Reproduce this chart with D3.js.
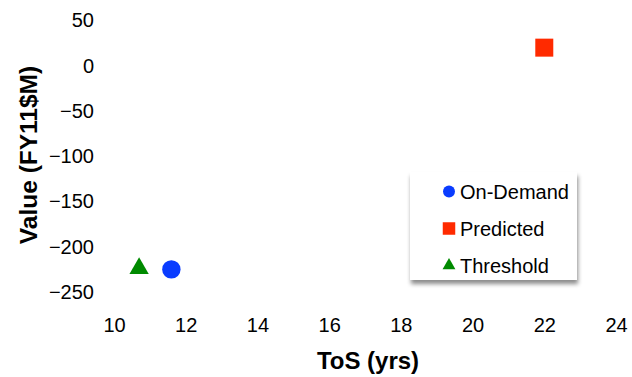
<!DOCTYPE html>
<html>
<head>
<meta charset="utf-8">
<script src="https://cdn.jsdelivr.net/npm/d3@7"></script>
<style>
  html, body { margin: 0; padding: 0; background: #fff; }
  svg { display: block; font-family: Arial, "Liberation Sans", sans-serif; }
</style>
</head>
<body>
<svg id="chart" width="632" height="377"></svg>
<script>
// Cost value versus time on station for three maintenance strategies
const seriesNames = ["On-Demand", "Predicted", "Threshold"];
const tosYears = [11.6, 22.0, 10.7];
const valueFY11M = [-225, 20, -224];
const seriesColors = ["#0a3cff", "#ff2a00", "#008a00"];
const seriesShapes = ["circle", "square", "triangle"];

const xTicks = [10, 12, 14, 16, 18, 20, 22, 24];
const yTicks = [50, 0, -50, -100, -150, -200, -250];

const svg = d3.select("#chart");

const x = d3.scaleLinear().domain([10, 24]).range([114, 616]);
const y = d3.scaleLinear().domain([-250, 50]).range([292, 20.5]);

const symbolType = { circle: d3.symbolCircle, square: d3.symbolSquare, triangle: d3.symbolTriangle };

// Axes without lines or tick marks, labels only
const xAxis = d3.axisBottom(x).tickValues(xTicks).tickSize(0).tickPadding(0);
const gx = svg.append("g").attr("transform", "translate(0,318)").call(xAxis);
gx.select(".domain").remove();
gx.selectAll("text").attr("font-size", 20).attr("fill", "#000").attr("dy", "0.71em")
  .attr("font-family", "Arial, 'Liberation Sans', sans-serif");

const yAxis = d3.axisLeft(y).tickValues(yTicks).tickSize(0).tickPadding(0);
const gy = svg.append("g").attr("transform", "translate(94,0)").call(yAxis);
gy.select(".domain").remove();
gy.selectAll("text").attr("font-size", 20).attr("fill", "#000")
  .attr("font-family", "Arial, 'Liberation Sans', sans-serif");

// Axis titles
svg.append("text")
  .attr("x", 368).attr("y", 369)
  .attr("text-anchor", "middle")
  .attr("font-size", 24).attr("font-weight", "bold")
  .text("ToS (yrs)");

svg.append("text")
  .attr("transform", "translate(37,155) rotate(-90)")
  .attr("text-anchor", "middle")
  .attr("font-size", 24.5).attr("font-weight", "bold")
  .text("Value (FY11$M)");

// Data points
const points = seriesNames.map((name, i) => ({
  name, tos: tosYears[i], value: valueFY11M[i], color: seriesColors[i], shape: seriesShapes[i]
}));

const markerArea = { circle: Math.PI * 9.2 * 9.2, square: 18 * 18, triangle: 18 * 18 * Math.sqrt(3) / 4 * 1.15 };

svg.append("g").selectAll("path")
  .data(points)
  .join("path")
  .attr("transform", d => `translate(${x(d.tos)},${y(d.value)})`)
  .attr("d", d => d3.symbol().type(symbolType[d.shape]).size(markerArea[d.shape])())
  .attr("fill", d => d.color);

// Legend with drop shadow
const defs = svg.append("defs");
const f = defs.append("filter").attr("id", "legendShadow")
  .attr("x", "-10%").attr("y", "-10%").attr("width", "125%").attr("height", "130%");
f.append("feDropShadow").attr("dx", 1).attr("dy", 4).attr("stdDeviation", 2.2)
  .attr("flood-color", "#000").attr("flood-opacity", 0.45);

const legend = svg.append("g").attr("transform", "translate(410,172)");
legend.append("rect")
  .attr("width", 167).attr("height", 108)
  .attr("fill", "#fff")
  .attr("filter", "url(#legendShadow)");

const legendArea = { circle: Math.PI * 6 * 6, square: 12.5 * 12.5, triangle: 12 * 12 * Math.sqrt(3) / 4 * 1.15 };

const items = legend.selectAll("g.item")
  .data(points)
  .join("g")
  .attr("class", "item")
  .attr("transform", (d, i) => `translate(39,${19.5 + i * 37})`);

items.append("path")
  .attr("d", d => d3.symbol().type(symbolType[d.shape]).size(legendArea[d.shape])())
  .attr("fill", d => d.color);

items.append("text")
  .attr("x", 11)
  .attr("dy", "0.36em")
  .attr("font-size", 20)
  .attr("fill", "#000")
  .text(d => d.name);
</script>
</body>
</html>
